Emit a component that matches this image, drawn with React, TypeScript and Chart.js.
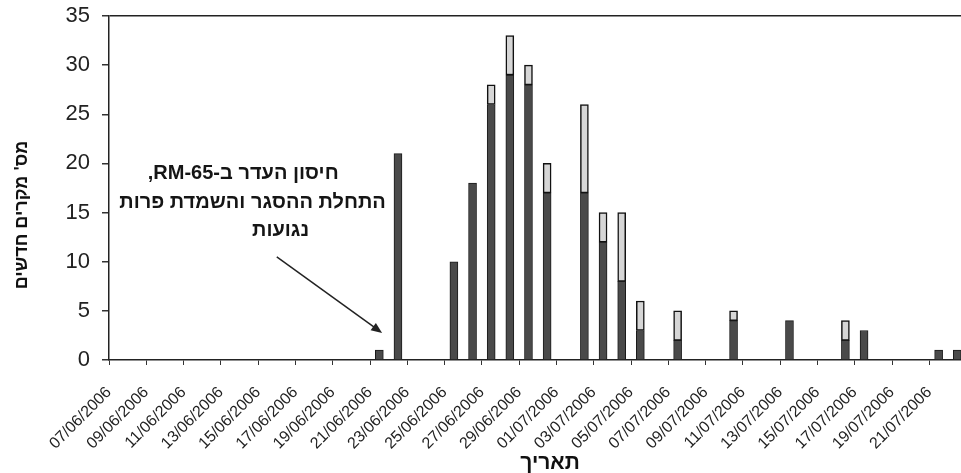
import React, { useEffect, useRef } from 'react';
import { Chart, registerables } from 'chart.js';

Chart.register(...registerables);

// ---- data ----
const dates: string[] = [
  '07/06/2006', '08/06/2006', '09/06/2006', '10/06/2006', '11/06/2006', '12/06/2006',
  '13/06/2006', '14/06/2006', '15/06/2006', '16/06/2006', '17/06/2006', '18/06/2006',
  '19/06/2006', '20/06/2006', '21/06/2006', '22/06/2006', '23/06/2006', '24/06/2006',
  '25/06/2006', '26/06/2006', '27/06/2006', '28/06/2006', '29/06/2006', '30/06/2006',
  '01/07/2006', '02/07/2006', '03/07/2006', '04/07/2006', '05/07/2006', '06/07/2006',
  '07/07/2006', '08/07/2006', '09/07/2006', '10/07/2006', '11/07/2006', '12/07/2006',
  '13/07/2006', '14/07/2006', '15/07/2006', '16/07/2006', '17/07/2006', '18/07/2006',
  '19/07/2006', '20/07/2006', '21/07/2006', '22/07/2006',
];

// dark (lower) segment
const darkCases: number[] = [
  0, 0, 0, 0, 0, 0,
  0, 0, 0, 0, 0, 0,
  0, 0, 1, 21, 0, 0,
  10, 18, 26, 29, 28, 17,
  0, 17, 12, 8, 3, 0,
  2, 0, 0, 4, 0, 0,
  4, 0, 0, 2, 3, 0,
  0, 0, 1, 1,
];

// light (upper) segment
const lightCases: number[] = [
  0, 0, 0, 0, 0, 0,
  0, 0, 0, 0, 0, 0,
  0, 0, 0, 0, 0, 0,
  0, 0, 2, 4, 2, 3,
  0, 9, 3, 7, 3, 0,
  3, 0, 0, 1, 0, 0,
  0, 0, 0, 2, 0, 0,
  0, 0, 0, 0,
];

const yTickValues: number[] = [0, 5, 10, 15, 20, 25, 30, 35];
const dateLabelStep = 2;

const yAxisTitle = "מס' מקרים חדשים";
const xAxisTitle = 'תאריך';
const noteLines: string[] = ['חיסון העדר ב-RM-65,', 'התחלת ההסגר והשמדת פרות', 'נגועות'];
// note anchor positions in data units (day index, cases)
const noteLineX: number[] = [7.2, 7.7, 9.2];
const noteLineY: number[] = [19.0, 16.05, 13.2];
const arrowFrom = { day: 9.0, cases: 10.5 };
const arrowTo = { day: 14.65, cases: 2.75 };

const FONT = '"Liberation Sans", Arial, "DejaVu Sans", sans-serif';

const toPoints = (vals: number[]) =>
  vals
    .map((v, i) => ({ x: i + 0.5, y: v }))
    .filter((p) => p.y > 0);

const decorPlugin = {
  id: 'decor',
  afterDraw(chart: any) {
    const { ctx, scales, chartArea } = chart;
    const x = scales.x;
    const y = scales.y;
    ctx.save();
    // note text
    ctx.font = `bold 20px ${FONT}`;
    ctx.fillStyle = '#151515';
    ctx.textAlign = 'center';
    ctx.textBaseline = 'middle';
    (ctx as any).direction = 'rtl';
    noteLines.forEach((line, i) => {
      ctx.fillText(line, x.getPixelForValue(noteLineX[i]), y.getPixelForValue(noteLineY[i]));
    });
    // arrow
    const x0 = x.getPixelForValue(arrowFrom.day);
    const y0 = y.getPixelForValue(arrowFrom.cases);
    const x1 = x.getPixelForValue(arrowTo.day);
    const y1 = y.getPixelForValue(arrowTo.cases);
    const ang = Math.atan2(y1 - y0, x1 - x0);
    ctx.strokeStyle = '#222';
    ctx.lineWidth = 1.5;
    ctx.beginPath();
    ctx.moveTo(x0, y0);
    ctx.lineTo(x1 - 6 * Math.cos(ang), y1 - 6 * Math.sin(ang));
    ctx.stroke();
    ctx.fillStyle = '#222';
    ctx.beginPath();
    ctx.moveTo(x1, y1);
    ctx.lineTo(x1 - 11 * Math.cos(ang) + 4.5 * Math.sin(ang), y1 - 11 * Math.sin(ang) - 4.5 * Math.cos(ang));
    ctx.lineTo(x1 - 11 * Math.cos(ang) - 4.5 * Math.sin(ang), y1 - 11 * Math.sin(ang) + 4.5 * Math.cos(ang));
    ctx.closePath();
    ctx.fill();

    // axis titles
    (ctx as any).direction = 'rtl';
    ctx.fillStyle = '#111';
    ctx.font = `bold 18px ${FONT}`;
    ctx.save();
    ctx.translate(22, (chartArea.top + chartArea.bottom) / 2 + 27);
    ctx.rotate(-Math.PI / 2);
    ctx.fillText(yAxisTitle, 0, 0);
    ctx.restore();
    ctx.font = `bold 21px ${FONT}`;
    ctx.fillText(xAxisTitle, (chartArea.left + chartArea.right) / 2 + 15, 463);
    ctx.restore();
  },
};

export default function App() {
  const ref = useRef<HTMLCanvasElement | null>(null);

  useEffect(() => {
    if (!ref.current) return;
    const chart = new Chart(ref.current, {
      type: 'bar',
      data: {
        datasets: [
          {
            label: 'dark',
            data: toPoints(darkCases) as any,
            backgroundColor: '#4a4a4a',
            borderColor: '#1a1a1a',
            borderWidth: 1,
            barThickness: 8,
            stack: 's',
          },
          {
            label: 'light',
            data: toPoints(lightCases) as any,
            backgroundColor: '#d6d6d6',
            borderColor: '#111',
            borderWidth: 1.5,
            borderSkipped: false,
            barThickness: 8,
            stack: 's',
          },
        ],
      },
      options: {
        responsive: false,
        animation: false,
        layout: { padding: { top: 16, left: 0, right: 0, bottom: 0 } },
        plugins: {
          legend: { display: false },
          tooltip: { enabled: false },
        },
        scales: {
          x: {
            type: 'linear',
            stacked: true,
            offset: false,
            min: 0,
            max: 45.7,
            afterBuildTicks: (s: any) => {
              const t = [];
              for (let i = 0; i < dates.length - 1; i += dateLabelStep) t.push({ value: i });
              s.ticks = t;
            },
            afterFit: (s: any) => {
              s.height = 113;
              s.paddingLeft = 0;
              s.paddingRight = 0;
            },
            ticks: {
              minRotation: 45,
              maxRotation: 45,
              autoSkip: false,
              padding: 18,
              color: '#222',
              font: { family: FONT, size: 16 },
              callback: (v: any) => dates[Math.round(Number(v))] ?? '',
            },
            grid: {
              offset: false,
              drawOnChartArea: false,
              drawTicks: true,
              tickLength: 5,
              tickColor: '#333',
              tickWidth: 1,
            },
            border: { display: true, color: '#222', width: 1.5 },
          },
          y: {
            stacked: true,
            min: 0,
            max: 35,
            afterBuildTicks: (s: any) => {
              s.ticks = yTickValues.map((v) => ({ value: v }));
            },
            afterFit: (s: any) => {
              s.width = 109;
              s.paddingTop = 0;
              s.paddingBottom = 0;
            },
            ticks: {
              padding: 12,
              color: '#222',
              font: { family: FONT, size: 22 },
            },
            grid: {
              drawTicks: true,
              tickLength: 7,
              tickColor: '#333',
              color: (c: any) => (c.tick && c.tick.value === 35 ? '#222' : 'rgba(0,0,0,0)'),
              lineWidth: 1.5,
            },
            border: { display: true, color: '#222', width: 1.5 },
          },
        },
      },
      plugins: [decorPlugin],
    });
    return () => chart.destroy();
  }, []);

  return (
    <div style={{ position: 'fixed', left: 0, top: 0, width: 961, height: 473, background: '#fff' }}>
      <canvas ref={ref} width={961} height={473} style={{ display: 'block' }} />
    </div>
  );
}
